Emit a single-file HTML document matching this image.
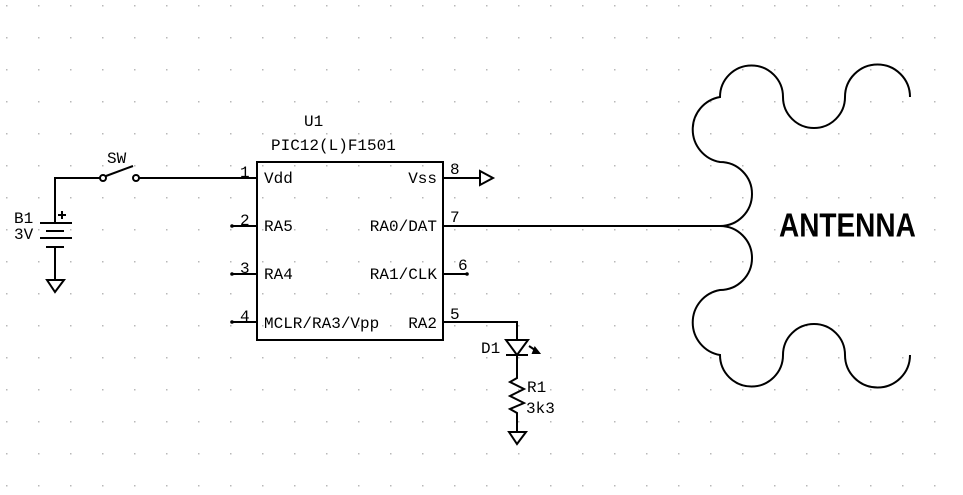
<!DOCTYPE html>
<html><head><style>
html,body{margin:0;padding:0;background:#fff;}
svg{display:block;}
text{font-family:"Liberation Mono",monospace;font-size:16px;fill:#000;}
</style></head><body>
<svg width="963" height="495" viewBox="0 0 963 495" xmlns="http://www.w3.org/2000/svg">
<defs>
<pattern id="g" x="6" y="5" width="32" height="32" patternUnits="userSpaceOnUse">
<rect x="0" y="0" width="1.5" height="1.5" fill="#b8b8b8"/>
</pattern>
</defs>
<rect width="963" height="495" fill="url(#g)"/>
<g stroke="#000" stroke-width="2" fill="none">
<polyline points="100,178 55,178 55,223"/>
<line x1="40" y1="223" x2="72" y2="223"/>
<line x1="46" y1="231" x2="64" y2="231"/>
<line x1="40" y1="238" x2="72" y2="238"/>
<line x1="46" y1="247" x2="64" y2="247"/>
<line x1="55" y1="247" x2="55" y2="280"/>
<polygon points="47,280 64,280 55,292"/>
<line x1="58" y1="215" x2="66" y2="215"/><line x1="62" y1="211" x2="62" y2="219"/>
<circle cx="103" cy="178" r="3"/>
<line x1="106" y1="176" x2="133" y2="166"/>
<circle cx="136" cy="178" r="3"/>
<line x1="139" y1="178" x2="257" y2="178"/>
<rect x="257" y="162" width="186" height="178"/>
<line x1="232" y1="226" x2="257" y2="226"/>
<line x1="232" y1="274" x2="257" y2="274"/>
<line x1="232" y1="322" x2="257" y2="322"/>
<line x1="443" y1="178" x2="480" y2="178"/>
<polygon points="480,171 493,178 480,185"/>
<line x1="443" y1="226" x2="720" y2="226"/>
<line x1="443" y1="274" x2="467" y2="274"/>
<polyline points="443,322 517,322 517,340"/>
<polygon points="506,340 528,340 517,355"/>
<line x1="506" y1="355" x2="528" y2="355"/>
<line x1="529" y1="346" x2="538" y2="352"/>
<polygon points="535,348 539,353 533,353" fill="#000"/>
<polyline points="517,355 517,378 510,382 524,389 510,396 524,403 510,409 517,413 517,432"/>
<polygon points="509,432 526,432 517,444"/>
<path d="M720,226 A32,32 0 0 0 720,162 A33,33 0 0 1 720,97 A31.5,31.5 0 0 1 783,97 A31,31 0 0 0 845,97 A32.5,32.5 0 0 1 910,97"/>
<path d="M720,226 A32,32 0 0 1 720,290 A33,33 0 0 0 720,355 A31.5,31.5 0 0 0 783,355 A31,31 0 0 1 845,355 A32.5,32.5 0 0 0 910,355"/>
</g>
<g fill="#000">
<circle cx="232" cy="226" r="1.8"/><circle cx="232" cy="274" r="1.8"/><circle cx="232" cy="322" r="1.8"/><circle cx="467" cy="274" r="1.8"/>
</g>
<text x="14" y="223">B1</text>
<text x="14" y="239">3V</text>
<text x="107" y="163">SW</text>
<text x="304" y="126">U1</text>
<text x="271" y="150">PIC12(L)F1501</text>
<text x="240" y="177">1</text>
<text x="240" y="225">2</text>
<text x="240" y="273">3</text>
<text x="240" y="321">4</text>
<text x="264" y="183">Vdd</text>
<text x="264" y="231">RA5</text>
<text x="264" y="279">RA4</text>
<text x="264" y="328">MCLR/RA3/Vpp</text>
<text x="437" y="183" text-anchor="end">Vss</text>
<text x="437" y="231" text-anchor="end">RA0/DAT</text>
<text x="437" y="279" text-anchor="end">RA1/CLK</text>
<text x="437" y="328" text-anchor="end">RA2</text>
<text x="450" y="174">8</text>
<text x="450" y="222">7</text>
<text x="458" y="270">6</text>
<text x="450" y="319">5</text>
<text x="481" y="353">D1</text>
<text x="527" y="392">R1</text>
<text x="526" y="413">3k3</text>
<text x="779" y="233" transform="translate(0,-43) scale(1,1.2)" style="font-family:'Liberation Sans',sans-serif;font-weight:bold;font-size:28px;">ANTENNA</text>
</svg>
</body></html>
